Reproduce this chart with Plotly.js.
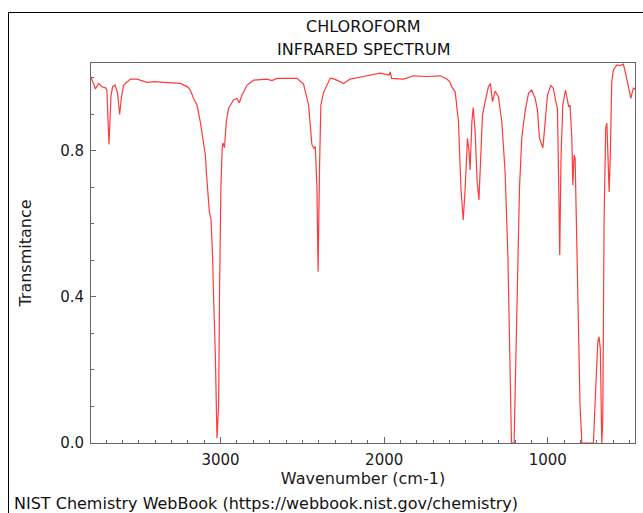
<!DOCTYPE html>
<html>
<head>
<meta charset="utf-8">
<script src="https://cdn.plot.ly/plotly-3.0.1.min.js"></script>
<style>
  html, body { margin: 0; padding: 0; background: #fff; }
  #wrap { position: relative; width: 643px; height: 513px; overflow: hidden; }
  #chart { width: 643px; height: 513px; }
  #frame { position: absolute; left: 8px; top: 12px; width: 700px; height: 600px;
           border: 1.5px solid #000; pointer-events: none; box-sizing: border-box; }
</style>
</head>
<body>
<div id="wrap">
  <div id="chart"></div>
  <div id="frame"></div>
</div>
<script>
// Wavenumbers (cm-1)
const wavenumber = [
  3790, 3778, 3765, 3745, 3725, 3704, 3695, 3682, 3670, 3660, 3645, 3630, 3617, 3605, 3593,
  3552, 3511, 3450, 3400, 3348, 3246, 3200, 3185, 3165, 3144, 3124, 3114, 3093, 3087, 3075,
  3069, 3059, 3049, 3043, 3032, 3022, 3012, 3006, 2998, 2990, 2985, 2976, 2965, 2951, 2921,
  2900, 2886, 2869, 2839, 2798, 2717, 2686, 2655, 2533, 2493, 2462, 2442, 2430, 2421, 2411,
  2404, 2395, 2387, 2371, 2350, 2330, 2319, 2289, 2249, 2208, 2126, 2024, 1970, 1963, 1955,
  1882, 1821, 1739, 1658, 1617, 1600, 1586, 1566, 1546, 1531, 1517, 1505, 1491, 1481, 1475,
  1464, 1456, 1444, 1432, 1421, 1409, 1399, 1383, 1363, 1351, 1338, 1322, 1302, 1281, 1261,
  1244, 1230, 1222, 1206, 1198, 1186, 1173, 1159, 1139, 1118, 1098, 1077, 1063, 1051, 1041,
  1030, 1016, 1002, 982, 966, 951, 941, 933, 927, 919, 908, 892, 880, 872, 864,
  853, 847, 839, 833, 823, 813, 803, 792, 721, 707, 694, 687, 679, 670, 664,
  656, 646, 639, 633, 625, 618, 609, 599, 578, 558, 538, 522, 508, 493, 477, 456
];
// Transmittance values
const transmittance = [
  1.000, 0.985, 0.970, 0.985, 0.976, 0.973, 0.968, 0.818, 0.950, 0.976, 0.980, 0.960, 0.900, 0.950, 0.980,
  0.997, 0.997, 0.988, 0.990, 0.988, 0.985, 0.975, 0.967, 0.944, 0.926, 0.880, 0.853, 0.789, 0.743, 0.660,
  0.635, 0.616, 0.515, 0.405, 0.241, 0.013, 0.104, 0.425, 0.700, 0.808, 0.822, 0.809, 0.880, 0.917, 0.940,
  0.944, 0.932, 0.953, 0.980, 0.994, 0.997, 0.993, 0.999, 0.999, 0.983, 0.926, 0.818, 0.807, 0.812, 0.700,
  0.469, 0.760, 0.926, 0.960, 0.980, 0.999, 0.999, 0.994, 0.985, 0.997, 1.004, 1.013, 1.008, 1.017, 0.999,
  0.997, 1.006, 1.004, 1.006, 0.997, 0.990, 0.975, 0.962, 0.880, 0.698, 0.611, 0.698, 0.835, 0.798, 0.748,
  0.880, 0.919, 0.853, 0.716, 0.666, 0.789, 0.899, 0.935, 0.976, 0.985, 0.935, 0.964, 0.949, 0.880, 0.743,
  0.515, 0.150, 0.000, 0.000, 0.150, 0.424, 0.698, 0.835, 0.908, 0.958, 0.967, 0.944, 0.912, 0.835, 0.824,
  0.809, 0.880, 0.953, 0.979, 0.972, 0.935, 0.917, 0.698, 0.515, 0.789, 0.926, 0.967, 0.944, 0.921, 0.926,
  0.835, 0.707, 0.789, 0.780, 0.561, 0.332, 0.104, 0.000, 0.000, 0.150, 0.278, 0.291, 0.259, 0.000, 0.058,
  0.606, 0.862, 0.876, 0.789, 0.688, 0.789, 0.990, 1.022, 1.036, 1.034, 1.038, 1.008, 0.972, 0.944, 0.972, 0.967
];
const titleLines = ["CHLOROFORM", "INFRARED SPECTRUM"];
const xTitle = "Wavenumber (cm-1)";
const yTitle = "Transmitance";
const footer = "NIST Chemistry WebBook (https://webbook.nist.gov/chemistry)";

const FONT = "DejaVu Sans, sans-serif";
const axisColor = "#666";
const textColor = "#1a1a1a";

const trace = {
  x: wavenumber, y: transmittance, type: "scatter", mode: "lines",
  line: { color: "#ff3a3a", width: 1.2 }, hoverinfo: "skip"
};

const layout = {
  width: 643, height: 513,
  margin: { l: 91, r: 8, t: 63, b: 70 },
  paper_bgcolor: "#fff", plot_bgcolor: "#fff",
  showlegend: false,
  font: { family: FONT, color: textColor, size: 15 },
  xaxis: {
    range: [3792, 467], showgrid: false, zeroline: false,
    showline: true, mirror: true, linecolor: axisColor, linewidth: 1,
    ticks: "inside", ticklen: 6, tickcolor: axisColor, tickwidth: 1,
    tick0: 0, dtick: 1000, tickformat: "d", ticklabelstandoff: 3,
    minor: { ticks: "inside", dtick: 100, tick0: 0, ticklen: 3, tickcolor: axisColor, showgrid: false },
    tickfont: { family: FONT, size: 15, color: textColor },
    title: { text: xTitle, font: { family: FONT, size: 16, color: textColor }, standoff: 2 }
  },
  yaxis: {
    range: [0, 1.041], showgrid: false, zeroline: false,
    showline: true, mirror: true, linecolor: axisColor, linewidth: 1,
    ticks: "inside", ticklen: 5, tickcolor: axisColor, tickwidth: 1,
    tick0: 0, dtick: 0.4, tickformat: ".1f", ticklabelstandoff: 3,
    minor: { ticks: "inside", dtick: 0.1, tick0: 0, ticklen: 3, tickcolor: axisColor, showgrid: false },
    tickfont: { family: FONT, size: 15, color: textColor },
    title: { text: yTitle, font: { family: FONT, size: 16, color: textColor }, standoff: 24 }
  },
  annotations: [
    { text: titleLines[0], xref: "paper", yref: "paper", x: 0.5, y: 1.095, xanchor: "center", yanchor: "middle",
      showarrow: false, font: { family: FONT, size: 16, color: "#111" } },
    { text: titleLines[1], xref: "paper", yref: "paper", x: 0.5, y: 1.0345, xanchor: "center", yanchor: "middle",
      showarrow: false, font: { family: FONT, size: 16, color: "#111" } },
    { text: footer, xref: "paper", yref: "paper", x: -0.1452, y: -0.159, xanchor: "left", yanchor: "middle",
      showarrow: false, font: { family: FONT, size: 16, color: "#111" } }
  ]
};

Plotly.newPlot("chart", [trace], layout, { staticPlot: true, displayModeBar: false });
</script>
</body>
</html>
